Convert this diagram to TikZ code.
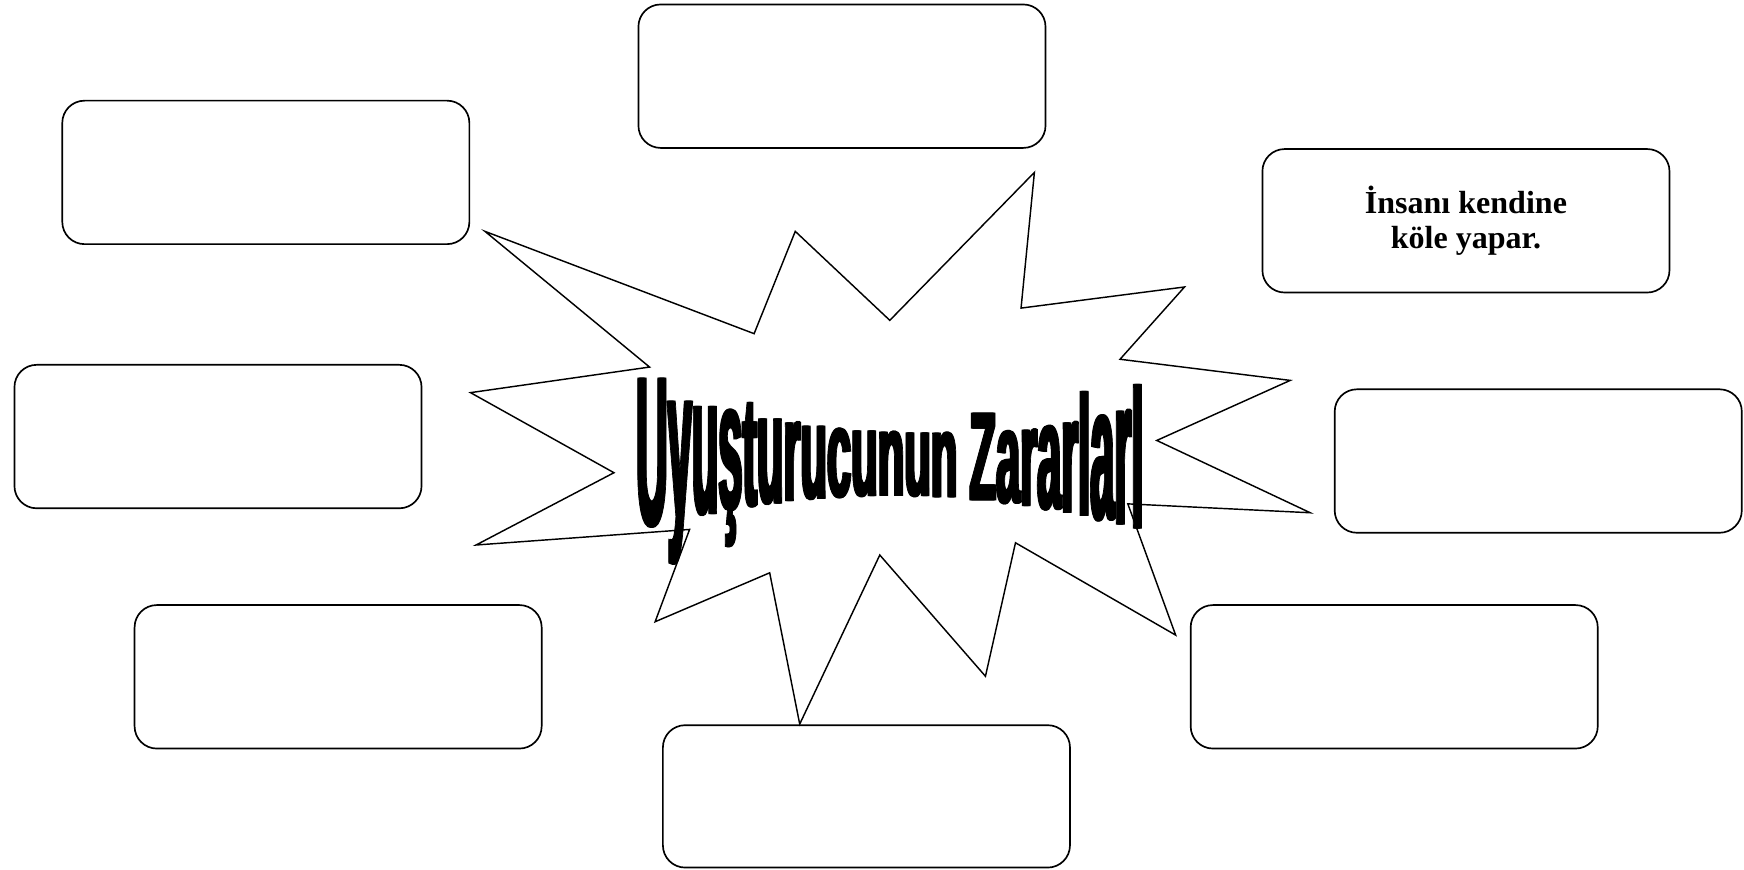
\documentclass[tikz,border=0pt]{standalone}
\usepackage{fontspec}
\usepackage{graphicx}
\setmainfont{Liberation Serif}
\newfontfamily\wafont{Liberation Sans}[BoldFeatures={FakeBold=1.5}]
\newdimen\wapos
\newcommand\waglyph[1]{\wafont\bfseries\fontsize{100}{100}\selectfont\rlap{#1}\kern2.6pt\rlap{#1}\kern2.6pt#1}
\tikzset{
  box/.style={draw, line width=1.5pt, rounded corners=20pt, minimum width=366pt, minimum height=129pt, inner sep=0pt, fill=white},
  burst/.style={draw, line width=1.3pt, fill=white, line join=miter},
  wordart/.style={anchor=base west, inner sep=0pt, outer sep=0pt},
  boxtext/.style={font=\fontsize{28.8}{32}\selectfont\bfseries, align=center}
}
\begin{document}
\begin{tikzpicture}[x=1pt,y=-1pt]
\useasboundingbox (0,0) rectangle (1568,782);
% boxes
\node[box] (b1) at (757,68.5) {};
\node[box] (b2) at (239,155) {};
\node[box, boxtext] (b3) at (1318,198.5) {İnsanı kendine\\köle yapar.};
\node[box] (b4) at (196,392.5) {};
\node[box] (b5) at (1383,414.5) {};
\node[box] (b6) at (304,608.5) {};
\node[box] (b7) at (1253.5,608.5) {};
\node[box, minimum height=128pt] (b8) at (779,716) {};
% burst
\draw[burst] (436,208) -- (678,300) -- (715,208) -- (800,288) -- (930,155) -- (918,277)
  -- (1065,258) -- (1007,323) -- (1160,342) -- (1040,396) -- (1178,461) -- (1014,453)
  -- (1057,571) -- (913,488) -- (886,608) -- (791,499) -- (719,651) -- (692,515)
  -- (589,559) -- (620,476) -- (428,490) -- (552,425) -- (423,353) -- (584,330) -- cycle;
% warped title
\global\wapos=572pt
\foreach \ch/\w/\f [count=\i] in {U/722/1,y/556/1.15,u/611/1.15,ş/556/1.15,t/333/1.05,u/611/1.12,r/389/1.1,u/611/1.08,c/556/1.06,u/611/1.05,n/611/1.04,u/611/1.03,n/611/1.02}{
  \pgfmathsetmacro\xs{\wapos}
  \pgfmathsetmacro\xc{\xs+\w*0.019539}
  \pgfmathsetmacro\tp{372-(0.026458*(\xc-814))^2}
  \pgfmathsetmacro\bt{445+(0.024021*(\xc-800))^2}
  \pgfmathsetmacro\sy{\f*(\bt-\tp)/71.6}
  \node[wordart] (wa\i) at (\xs-1,\bt) {\scalebox{0.3908}[\sy]{\waglyph{\ch}}};
  \pgfmathsetmacro\xe{\xs+\w*0.039078}
  \global\wapos=\xe pt
}
\global\wapos=871.6pt
\foreach \ch/\w/\f [count=\i] in {Z/611/1,a/556/1.0,r/389/1.0,a/556/1.02,r/389/1.04,l/278/1,a/556/1.06,r/389/1.08,ı/278/1.3}{
  \pgfmathsetmacro\xs{\wapos}
  \pgfmathsetmacro\xc{\xs+\w*0.019539}
  \pgfmathsetmacro\tp{372-(0.026458*(\xc-814))^2}
  \pgfmathsetmacro\bt{445+(0.024021*(\xc-800))^2}
  \pgfmathsetmacro\sy{\f*(\bt-\tp)/71.6}
  \node[wordart] (wb\i) at (\xs-1,\bt) {\scalebox{0.3908}[\sy]{\waglyph{\ch}}};
  \pgfmathsetmacro\xe{\xs+\w*0.039078}
  \global\wapos=\xe pt
}
\end{tikzpicture}
\end{document}
